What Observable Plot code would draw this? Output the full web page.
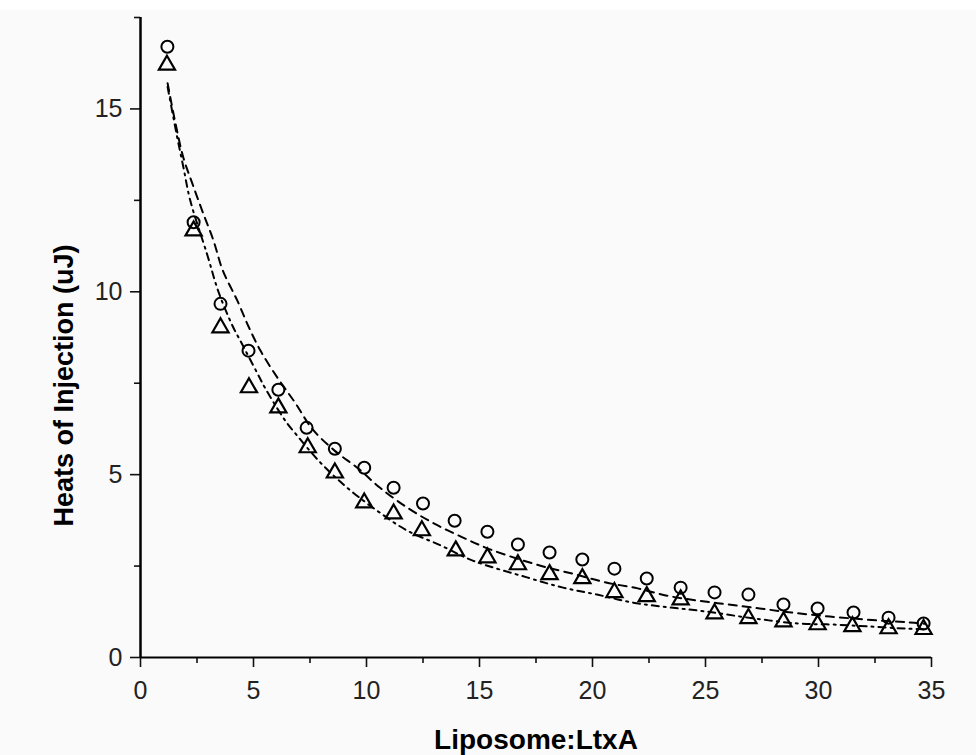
<!DOCTYPE html>
<html>
<head>
<meta charset="utf-8">
<script src="https://cdn.jsdelivr.net/npm/d3@7"></script>
<script src="https://cdn.jsdelivr.net/npm/@observablehq/plot@0.6"></script>
<style>
  html, body { margin: 0; padding: 0; background: #ffffff; }
  #spacer { height: 10px; background: #ffffff; }
  #chart svg { display: block; background: #fafafa; }
</style>
</head>
<body>
<div id="spacer"></div>
<div id="chart"></div>
<script>
// Circles (series A)
const xCircle = [1.19, 2.35, 3.54, 4.78, 6.1, 7.35, 8.6, 9.9, 11.2, 12.5, 13.9, 15.35, 16.7, 18.1, 19.55, 20.97, 22.4, 23.9, 25.4, 26.9, 28.45, 29.96, 31.55, 33.1, 34.65];
const yCircle = [16.7, 11.9, 9.67, 8.39, 7.32, 6.28, 5.71, 5.19, 4.64, 4.21, 3.74, 3.44, 3.09, 2.87, 2.68, 2.43, 2.16, 1.91, 1.78, 1.72, 1.45, 1.34, 1.23, 1.09, 0.93];
// Triangles (series B)
const xTriangle = [1.17, 2.35, 3.54, 4.8, 6.1, 7.4, 8.6, 9.9, 11.2, 12.45, 13.95, 15.35, 16.7, 18.1, 19.55, 20.97, 22.4, 23.9, 25.4, 26.9, 28.45, 29.96, 31.5, 33.1, 34.65];
const yTriangle = [16.2, 11.67, 9.02, 7.38, 6.83, 5.74, 5.05, 4.23, 3.93, 3.47, 2.92, 2.73, 2.54, 2.27, 2.16, 1.78, 1.67, 1.58, 1.2, 1.07, 0.98, 0.9, 0.85, 0.79, 0.77];
// Fitted curve for circles (dashed)
const xFitA = [1.2, 1.55, 1.9, 2.3, 2.74, 3.23, 3.63, 4.29, 4.78, 5.3, 6.06, 6.86, 7.6, 8.6, 9.65, 10.6, 11.8, 13.0, 14.2, 15.5, 17.7, 19.25, 20.6, 22.0, 23.3, 24.6, 26.0, 27.4, 28.8, 30.5, 32.7, 34.0, 34.7];
const yFitA = [15.7, 14.6, 13.66, 12.95, 12.2, 11.4, 10.6, 9.75, 9.05, 8.4, 7.65, 6.95, 6.25, 5.65, 5.16, 4.64, 4.1, 3.66, 3.3, 2.95, 2.51, 2.27, 2.05, 1.89, 1.69, 1.56, 1.45, 1.34, 1.23, 1.12, 1.01, 0.96, 0.92];
// Fitted curve for triangles (dash-dot)
const xFitB = [1.2, 1.6, 1.9, 2.2, 2.96, 3.45, 4.07, 4.42, 5.18, 5.53, 6.4, 6.86, 7.96, 9.15, 10.5, 11.8, 13.3, 14.7, 17.1, 18.7, 20.2, 21.8, 23.4, 25.0, 27.0, 29.1, 30.7, 32.2, 33.85, 34.7];
const yFitB = [15.6, 14.3, 13.4, 12.5, 11.0, 10.0, 9.07, 8.66, 7.76, 7.35, 6.48, 6.12, 5.33, 4.64, 4.0, 3.47, 3.06, 2.65, 2.19, 1.91, 1.72, 1.5, 1.37, 1.26, 1.08, 0.93, 0.9, 0.85, 0.79, 0.77];
// Ticks
const xTicks = [0, 5, 10, 15, 20, 25, 30, 35];
const xMinorTicks = [2.5, 7.5, 12.5, 17.5, 22.5, 27.5, 32.5];
const yTicks = [0, 5, 10, 15];
const yMinorTicks = [2.5, 7.5, 12.5, 17.5];
const xTitle = "Liposome:LtxA";
const yTitle = "Heats of Injection (uJ)";

const circles = xCircle.map((x, i) => ({x, y: yCircle[i]}));
const triangles = xTriangle.map((x, i) => ({x, y: yTriangle[i]}));
const fitA = xFitA.map((x, i) => ({x, y: yFitA[i]}));
const fitB = xFitB.map((x, i) => ({x, y: yFitB[i]}));

const font = "'Liberation Sans', Arial, sans-serif";
const narrow = "'Liberation Sans Narrow', 'Arial Narrow', 'Liberation Sans', Arial, sans-serif";

const chart = Plot.plot({
  width: 976,
  height: 745,
  marginLeft: 140,
  marginRight: 45,
  marginTop: 7,
  marginBottom: 98,
  style: {fontFamily: font, background: "#fafafa", color: "#111"},
  x: {domain: [0, 35]},
  y: {domain: [0, 17.5]},
  marks: [
    Plot.axisX({ticks: xTicks, tickSize: 10, strokeWidth: 1.6, label: null, tickFormat: () => ""}),
    Plot.axisX({ticks: xMinorTicks, tickSize: 6, strokeWidth: 1.6, label: null, tickFormat: () => ""}),
    Plot.axisY({ticks: yTicks, tickSize: 10, strokeWidth: 1.6, label: null, tickFormat: () => ""}),
    Plot.axisY({ticks: yMinorTicks, tickSize: 6, strokeWidth: 1.6, label: null, tickFormat: () => ""}),
    Plot.text(xTicks, {x: d => d, text: d => String(d), frameAnchor: "bottom", textAnchor: "middle", lineAnchor: "top", dy: 24, fontSize: 25, fontFamily: narrow, fill: "#222"}),
    Plot.text(yTicks, {y: d => d, text: d => String(d), frameAnchor: "left", textAnchor: "end", lineAnchor: "middle", dx: -18, fontSize: 25, fontFamily: narrow, fill: "#222"}),
    Plot.ruleX([0], {y1: 0, y2: 17.5, stroke: "#000", strokeWidth: 2.5}),
    Plot.ruleY([0], {x1: 0, x2: 35, stroke: "#000", strokeWidth: 2}),
    Plot.line(fitA, {x: "x", y: "y", stroke: "#000", strokeWidth: 2, strokeDasharray: "8,6", curve: "catmull-rom"}),
    Plot.line(fitB, {x: "x", y: "y", stroke: "#000", strokeWidth: 2, strokeDasharray: "7,5,2,5", curve: "catmull-rom"}),
    Plot.dot(circles, {x: "x", y: "y", r: 6, stroke: "#000", strokeWidth: 2, fill: "none", symbol: "circle"}),
    Plot.dot(triangles, {x: "x", y: "y", r: 6, stroke: "#000", strokeWidth: 2.2, fill: "none", symbol: "triangle"}),
    Plot.text([xTitle], {frameAnchor: "bottom", textAnchor: "middle", lineAnchor: "middle", dy: 83, fontSize: 28, fontWeight: "bold", fill: "#000"}),
    Plot.text([yTitle], {frameAnchor: "left", textAnchor: "middle", lineAnchor: "middle", rotate: -90, dx: -76, dy: 48, fontSize: 27, fontWeight: "bold", fill: "#000"})
  ]
});
document.getElementById("chart").appendChild(chart);
</script>
</body>
</html>
